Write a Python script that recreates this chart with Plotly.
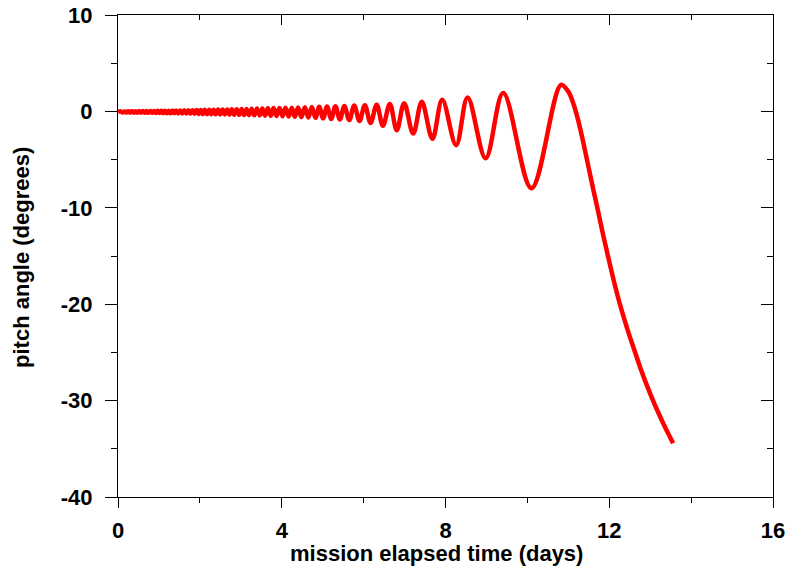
import plotly.graph_objects as go

# ---- data (days, degrees) ----
start_t = [0.0]
start_y = [-0.05]

peak_t = [0.07, 0.16, 0.25, 0.34, 0.43, 0.52, 0.61, 0.70, 0.79, 0.88, 0.97, 1.06, 1.15, 1.24,
          1.33, 1.42, 1.52, 1.62, 1.72, 1.82, 1.92, 2.02, 2.12, 2.23, 2.335, 2.445, 2.555,
          2.67, 2.78, 2.90, 3.02, 3.14, 3.265, 3.395, 3.525, 3.66, 3.80, 3.945, 4.09, 4.245,
          4.40, 4.565, 4.735, 4.915, 5.105, 5.31, 5.53, 5.77, 6.03, 6.32, 6.64, 6.99, 7.42,
          7.92, 8.54, 9.41, 10.82]
peak_y = [0.0, 0.0, 0.01, 0.01, 0.02, 0.03, 0.03, 0.04, 0.05, 0.05, 0.06, 0.07, 0.07, 0.08,
          0.09, 0.10, 0.10, 0.11, 0.12, 0.13, 0.14, 0.15, 0.16, 0.17, 0.18, 0.19, 0.20,
          0.21, 0.22, 0.23, 0.24, 0.26, 0.27, 0.29, 0.30, 0.32, 0.34, 0.35, 0.37, 0.39,
          0.41, 0.43, 0.46, 0.48, 0.51, 0.54, 0.57, 0.61, 0.65, 0.70, 0.77, 0.85, 1.0,
          1.2, 1.45, 1.9, 2.75]

trough_t = [0.115, 0.205, 0.295, 0.385, 0.475, 0.565, 0.655, 0.745, 0.835, 0.925, 1.015,
            1.105, 1.195, 1.285, 1.375, 1.47, 1.57, 1.67, 1.77, 1.87, 1.97, 2.07, 2.175,
            2.28, 2.39, 2.50, 2.61, 2.725, 2.84, 2.96, 3.08, 3.20, 3.33, 3.46, 3.59, 3.73,
            3.87, 4.02, 4.17, 4.32, 4.48, 4.65, 4.825, 5.01, 5.21, 5.42, 5.65, 5.90, 6.17,
            6.47, 6.81, 7.21, 7.68, 8.26, 8.98, 10.10]
trough_y = [-0.12, -0.12, -0.13, -0.13, -0.14, -0.14, -0.15, -0.15, -0.16, -0.17, -0.17,
            -0.18, -0.19, -0.19, -0.20, -0.21, -0.22, -0.23, -0.24, -0.25, -0.26, -0.27, -0.28,
            -0.29, -0.30, -0.31, -0.32, -0.33, -0.35, -0.36, -0.37, -0.39, -0.40, -0.42, -0.44,
            -0.46, -0.48, -0.50, -0.53, -0.56, -0.59, -0.63, -0.67, -0.72, -0.78, -0.85, -0.90,
            -1.00, -1.20, -1.50, -1.95, -2.30, -2.85, -3.50, -4.86, -7.97]

tail_t = [11.0, 11.12, 11.24, 11.37, 11.49, 11.61, 11.73, 11.85, 11.96, 12.06, 12.16, 12.26,
          12.36, 12.47, 12.6, 12.75, 12.91, 13.08, 13.2, 13.32, 13.44, 13.56]
tail_y = [2.05, 0.85, -0.9, -3.3, -5.7, -8.1, -10.4, -12.8, -14.85, -16.65, -18.4, -20.0,
          -21.45, -22.95, -24.6, -26.48, -28.32, -30.1, -31.26, -32.37, -33.42, -34.43]

x_ticks = [0, 4, 8, 12, 16]
y_ticks = [10, 0, -10, -20, -30, -40]

# ---- assemble the curve ----
xs = list(start_t)
ys = list(start_y)
for i in range(len(peak_t)):
    xs.append(peak_t[i]); ys.append(peak_y[i])
    if i < len(trough_t):
        xs.append(trough_t[i]); ys.append(trough_y[i])
xs += tail_t
ys += tail_y

FONT = "Liberation Sans, Arial, sans-serif"
FS = 22

fig = go.Figure()
fig.add_trace(go.Scatter(x=xs, y=ys, mode="lines",
                         line=dict(color="#ff0000", width=4.5, shape="spline", smoothing=1),
                         showlegend=False, hoverinfo="skip"))
fig.add_trace(go.Scatter(x=[], y=[], xaxis="x2", yaxis="y2", showlegend=False))

common = dict(showgrid=False, zeroline=False, showline=True, linecolor="black",
              linewidth=1, tickcolor="black", tickwidth=1, automargin=False)

fig.update_layout(
    width=791, height=576,
    margin=dict(l=118, r=18, t=15, b=79),
    paper_bgcolor="white", plot_bgcolor="white",
    font=dict(family=FONT, size=FS, color="black", weight="bold"),
    xaxis=dict(range=[0, 16], tickvals=x_ticks, ticktext=[str(v) for v in x_ticks],
               ticks="outside", ticklen=10, ticklabelstandoff=4, ticklabeloverflow="allow",
               minor=dict(dtick=2, tick0=0, ticks="outside", ticklen=5, tickcolor="black"),
               tickfont=dict(family=FONT, size=FS, weight="bold"), **common),
    xaxis2=dict(range=[0, 16], overlaying="x", side="top", tickvals=x_ticks,
                showticklabels=False, ticks="inside", ticklen=10,
                minor=dict(dtick=2, tick0=0, ticks="inside", ticklen=5, tickcolor="black"),
                **common),
    yaxis=dict(range=[-40, 10], tickvals=y_ticks, ticktext=[str(v) for v in y_ticks],
               ticks="outside", ticklen=12, ticklabelstandoff=8, ticklabeloverflow="allow",
               minor=dict(dtick=5, tick0=0, ticks="outside", ticklen=6, tickcolor="black"),
               tickfont=dict(family=FONT, size=FS, weight="bold"), **common),
    yaxis2=dict(range=[-40, 10], overlaying="y", side="right", tickvals=y_ticks,
                showticklabels=False, ticks="inside", ticklen=12,
                minor=dict(dtick=5, tick0=0, ticks="inside", ticklen=6, tickcolor="black"),
                **common),
    annotations=[
        dict(text="mission elapsed time (days)", xref="paper", yref="paper",
             x=0.4855, y=-0.118, xanchor="center", yanchor="middle", showarrow=False,
             font=dict(family=FONT, size=FS, weight="bold", color="black")),
        dict(text="pitch angle (degrees)", xref="paper", yref="paper",
             x=-0.1466, y=0.498, xanchor="center", yanchor="middle", showarrow=False,
             textangle=-90,
             font=dict(family=FONT, size=FS, weight="bold", color="black")),
    ],
)

# remove the browser's default 8px body margin so the figure fills the window exactly
fig.write_html("out.html",
               config={"displayModeBar": False},
               post_script="document.body.style.margin='0px';document.body.style.overflow='hidden';")
